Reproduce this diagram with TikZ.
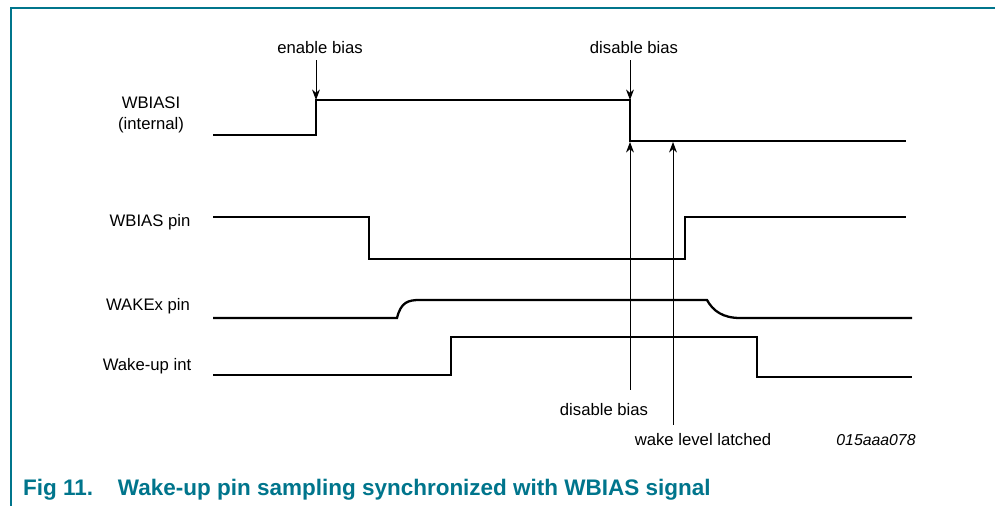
\documentclass[tikz,border=0pt]{standalone}
\usepackage{fontspec}
\setmainfont{Liberation Sans}
\usepackage{tikz}
\usetikzlibrary{arrows.meta, positioning, calc}
\definecolor{nxpteal}{RGB}{0,117,140}

\begin{document}
\begin{tikzpicture}[x=0.02cm, y=-0.02cm, font=\fontsize{9.5}{11.5}\selectfont]
    \useasboundingbox (0,0) rectangle (995,506);
    \draw[nxpteal, line width=1pt] (995,8) -- (11,8) -- (11,506);%frame
    % =============== signal names ====================
    \node (wbiasi) [align=center, text=black] at (151,115){WBIASI\\(internal)};%internal bias
    \node (wbias) [text=black] at (150,222){WBIAS pin};%bias pin
    \node (wake) [text=black] at (148,306){WAKEx pin};%wake pin
    \node (wint) [text=black] at (147,366){Wake-up int};%wake-up interrupt
    % =============== waveforms ====================
    \draw[line width=1.3pt] (213,135) -- (316,135) -- (316,100) -- (630,100) -- (630,141) -- (906,141);%WBIASI
    \draw[line width=1.3pt] (213,217) -- (369,217) -- (369,259) -- (685,259) -- (685,217) -- (906,217);%WBIAS pin
    \draw[line width=1.3pt] (213,318) -- (397,318) .. controls (401,302) and (408,300) .. (420,300) -- (707,300) .. controls (713,311) and (723,318) .. (740,318) -- (912,318);%WAKEx pin
    \draw[line width=1.3pt] (213,375) -- (451,375) -- (451,337) -- (757,337) -- (757,377) -- (912,377);%wake-up int
    % =============== events ====================
    \node (en) [text=black] at (320,48){enable bias};%enable text
    \node (dis) [text=black] at (634,48){disable bias};%disable text
    \coordinate (enT) at (316,100);
    \coordinate (disT) at (630,100);
    \draw[-{Stealth[length=6pt, width=4.5pt]}, line width=0.5pt] (en.south -| enT) to (enT);%enable arrow
    \draw[-{Stealth[length=6pt, width=4.5pt]}, line width=0.5pt] (dis.south -| disT) to (disT);%disable arrow
    \node (disB) [text=black] at (604,410){disable bias};%bottom disable text
    \node (latch) [text=black] at (703,440){wake level latched};%latch text
    \coordinate (disU) at (630,142);
    \coordinate (latchU) at (673,142);
    \draw[-{Stealth[length=6pt, width=4.5pt]}, line width=0.5pt] (630,390) to (disU);%disable up arrow
    \draw[-{Stealth[length=6pt, width=4.5pt]}, line width=0.5pt] (673,425) to (latchU);%latch up arrow
    \node (code) [text=black, font=\fontsize{9}{11}\selectfont\itshape] at (876,440){015aaa078};%figure code
    % =============== caption ====================
    \node (cap) [anchor=west, text=nxpteal, font=\fontsize{12.8}{14}\selectfont\bfseries] at (17,490){Fig 11.\hspace{1.1em}Wake-up pin sampling synchronized with WBIAS signal};%caption
\end{tikzpicture}
\end{document}
